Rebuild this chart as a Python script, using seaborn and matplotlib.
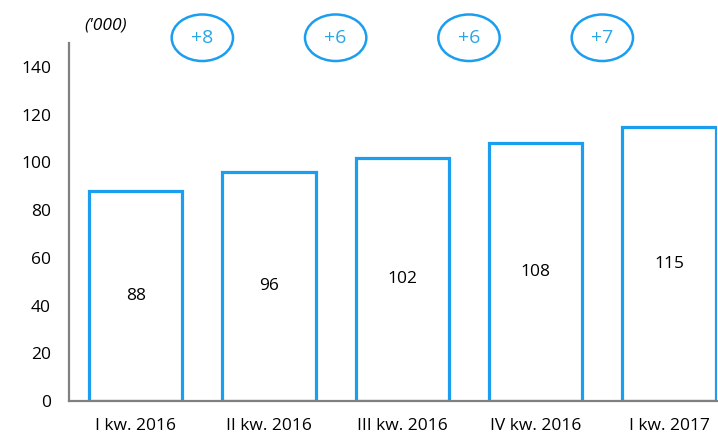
import matplotlib
matplotlib.use("Agg")
import matplotlib.pyplot as plt
import seaborn as sns
import pandas as pd
from matplotlib.patches import Ellipse

categories = ["I kw. 2016", "II kw. 2016", "III kw. 2016", "IV kw. 2016", "I kw. 2017"]
values = [88, 96, 102, 108, 115]
changes = ["+8", "+6", "+6", "+7"]
yticks = [0, 20, 40, 60, 80, 100, 120, 140]
unit_label = "('000)"

BLUE = "#1B9EF0"
TEXT_BLUE = "#2AA6E8"
GRAY = "#808080"

sns.set_theme(style="white")
plt.rcParams["font.family"] = ["Open Sans", "DejaVu Sans"]

df = pd.DataFrame({"cat": categories, "val": values})

fig = plt.figure(figsize=(7.18, 4.33), dpi=100)
ax = fig.add_axes([69/718, 32/433, (717-69)/718, (401-43)/433])

sns.barplot(data=df, x="cat", y="val", ax=ax, color="white", edgecolor=BLUE,
            linewidth=2.3, width=0.7, saturation=1)

ax.set_xlim(-0.5, 4.36)
ax.set_ylim(0, 150)
ax.set_yticks(yticks)
ax.set_xlabel("")
ax.set_ylabel("")
ax.tick_params(axis="y", length=0, pad=13, labelsize=12.5, colors="black")
ax.tick_params(axis="x", length=0, pad=12, labelsize=12.5, colors="black")

for s in ["top", "right"]:
    ax.spines[s].set_visible(False)
for s in ["left", "bottom"]:
    ax.spines[s].set_color(GRAY)
    ax.spines[s].set_linewidth(1.6)
    ax.spines[s].set_zorder(5)

for i, v in enumerate(values):
    ax.text(i, v / 2, str(v), ha="center", va="center", fontsize=12.5, color="black")

for i, c in enumerate(changes):
    e = Ellipse((i + 0.5, 152.2), width=0.46, height=19.5, fill=False,
                edgecolor=BLUE, linewidth=1.8, clip_on=False)
    ax.add_patch(e)
    ax.text(i + 0.5, 152.2, c, ha="center", va="center", fontsize=14,
            color=TEXT_BLUE, clip_on=False)

fig.text(106/718, 1 - 25/433, unit_label, ha="center", va="center",
         fontsize=12.5, style="italic", color="black")

fig.savefig("out.png", dpi=100)
